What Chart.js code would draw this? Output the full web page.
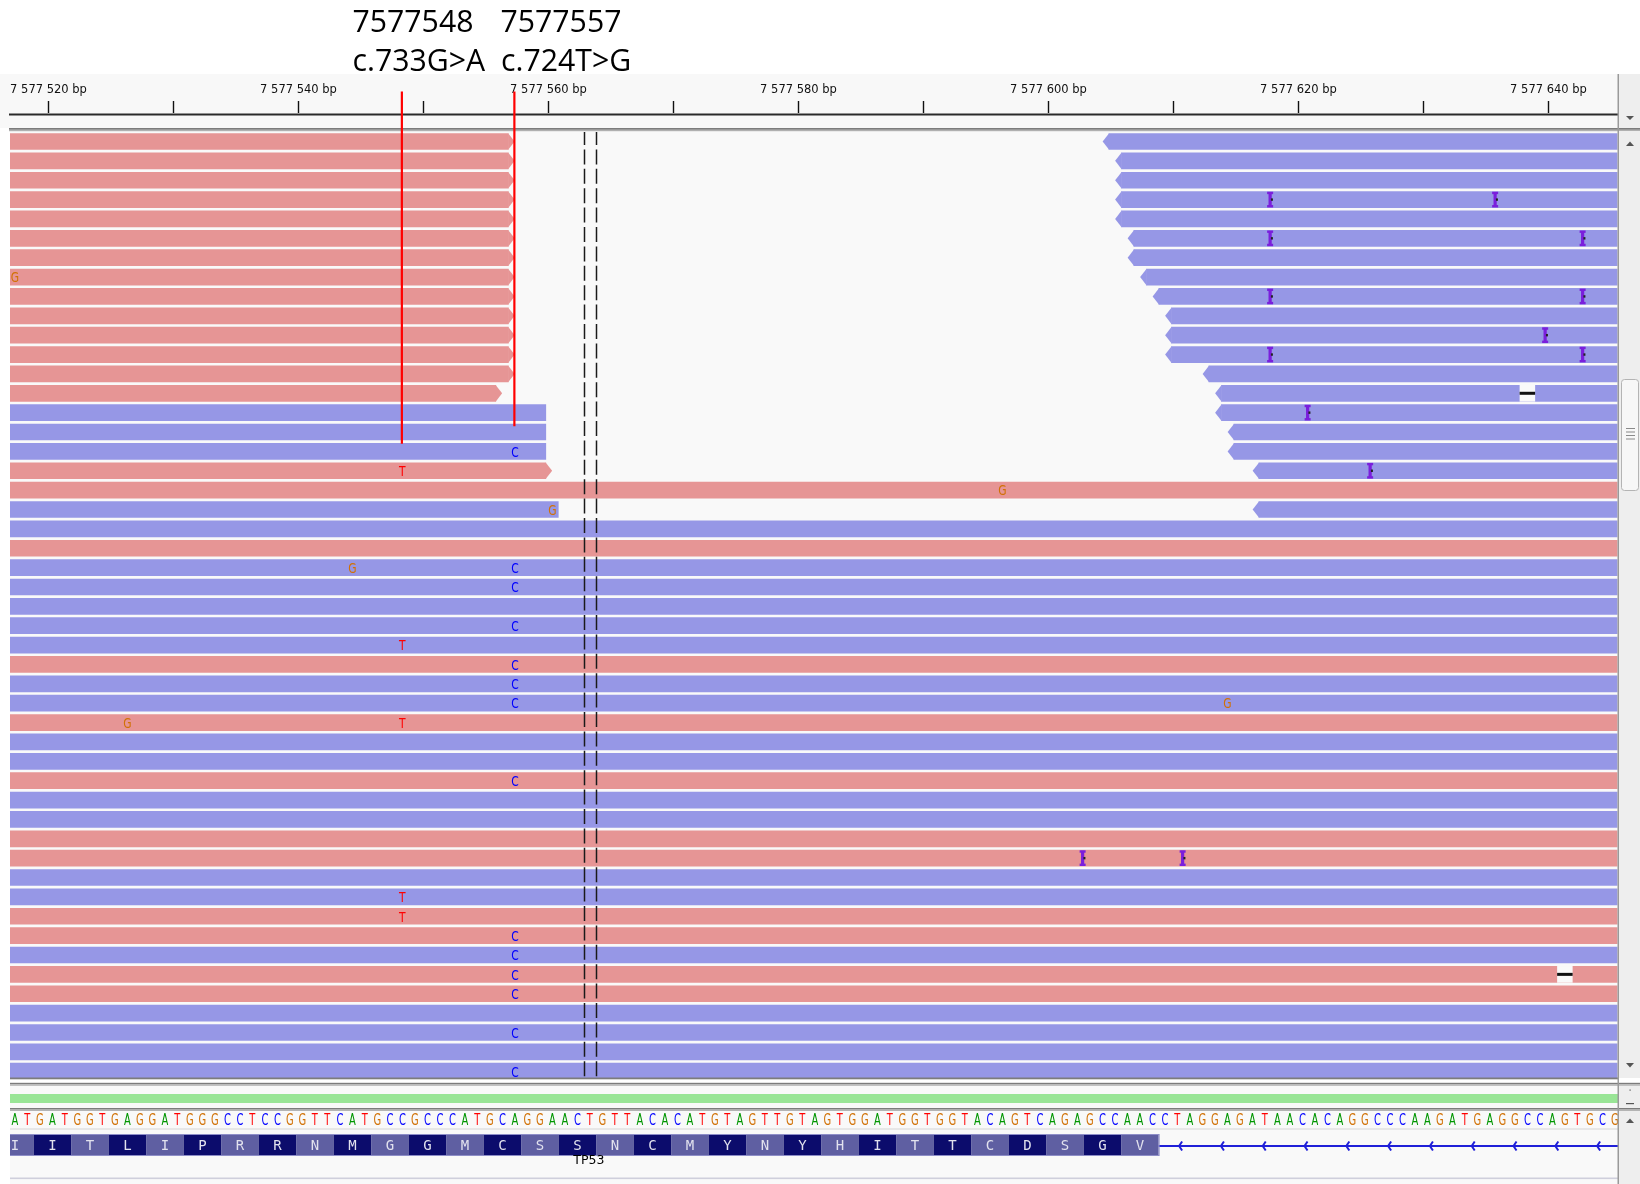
<!DOCTYPE html>
<html>
<head>
<meta charset="utf-8">
<title>TP53 reads</title>
<script src="https://cdn.jsdelivr.net/npm/chart.js@4.4.1/dist/chart.umd.min.js"></script>
<style>
	html, body { margin: 0; padding: 0; background: #fff; }
	canvas { display: block; }
</style>
</head>
<body>
<canvas id="myChart" width="1640" height="1184"></canvas>
<script>
// rows of the alignment panel (top to bottom)
var rowNames = ['1', '2', '3', '4', '5', '6', '7', '8', '9', '10', '11', '12', '13', '14', '15', '16', '17',
	'18', '19', '20', '21', '22', '23', '24', '25', '26', '27', '28', '29', '30', '31', '32', '33', '34',
	'35', '36', '37', '38', '39', '40', '41', '42', '43', '44', '45', '46', '47', '48', '49'];

// reads: row, first base, last base, strand
var readRow = [
	1, 2, 3, 4, 5, 6, 7, 8, 9, 10, 11, 12, 13, 14, 15, 16, 17, 18, 19, 20,
	21, 22, 23, 24, 25, 26, 27, 28, 29, 30, 31, 32, 33, 34, 35, 36, 37, 38, 39, 40, 41, 42, 43, 44, 45, 46, 47, 48, 49,
	1, 2, 3, 4, 5, 6, 7, 8, 9, 10, 11, 12, 13, 14, 15, 16, 17, 18, 20];
var readStart = [
	7577457, 7577457, 7577457, 7577457, 7577457, 7577457, 7577457, 7577457, 7577457, 7577457,
	7577457, 7577457, 7577457, 7577456, 7577460, 7577460, 7577460, 7577460, 7577503, 7577461,
	7577508, 7577504, 7577511, 7577499, 7577506, 7577502, 7577510, 7577497, 7577505, 7577509,
	7577500, 7577507, 7577503, 7577512, 7577498, 7577506, 7577501, 7577504, 7577510, 7577499,
	7577508, 7577502, 7577505, 7577500, 7577511, 7577503, 7577507, 7577498, 7577509,
	7577605, 7577606, 7577606, 7577606, 7577606, 7577607, 7577607, 7577608, 7577609, 7577610,
	7577610, 7577610, 7577613, 7577614, 7577614, 7577615, 7577615, 7577617, 7577617];
var readEnd = [
	7577556, 7577556, 7577556, 7577556, 7577556, 7577556, 7577556, 7577556, 7577556, 7577556,
	7577556, 7577556, 7577556, 7577555, 7577559, 7577559, 7577559, 7577559, 7577652, 7577560,
	7577658, 7577654, 7577661, 7577649, 7577656, 7577652, 7577660, 7577647, 7577655, 7577659,
	7577650, 7577657, 7577653, 7577662, 7577648, 7577656, 7577651, 7577654, 7577660, 7577649,
	7577658, 7577652, 7577655, 7577650, 7577661, 7577653, 7577657, 7577648, 7577659,
	7577705, 7577706, 7577706, 7577706, 7577706, 7577707, 7577707, 7577708, 7577709, 7577710,
	7577710, 7577710, 7577713, 7577714, 7577714, 7577715, 7577715, 7577717, 7577717];
var readStrand = '++++++++++++++---++-' + '-+-----+--+--+--++--++-++----' + '-------------------';

// mismatching bases
var mmRow = [8, 17, 18, 19, 20, 23, 23, 24, 26, 27, 28, 29, 30, 30, 31, 31, 34, 40, 41, 42, 43, 44, 45, 47, 49];
var mmPos = [7577517, 7577557, 7577548, 7577596, 7577560, 7577544, 7577557, 7577557, 7577557, 7577548,
	7577557, 7577557, 7577557, 7577614, 7577526, 7577548, 7577557, 7577548, 7577548, 7577557,
	7577557, 7577557, 7577557, 7577557, 7577557];
var mmBase = 'GCTGGGCCCTCCCGGTCTTCCCCCC';

// insertions (base following the insert) and deletions
var insRow = [4, 4, 6, 6, 9, 9, 11, 12, 12, 15, 18, 38, 38];
var insPos = [7577618, 7577636, 7577618, 7577643, 7577618, 7577643, 7577640, 7577618, 7577643, 7577621, 7577626, 7577603, 7577611];
var delRow = [14, 44];
var delPos = [7577638, 7577641];

// ruler
var tickPositions = [7577520, 7577530, 7577540, 7577550, 7577560, 7577570, 7577580, 7577590, 7577600, 7577610, 7577620, 7577630, 7577640];
var tickLabels = ['7 577 520 bp', '', '7 577 540 bp', '', '7 577 560 bp', '', '7 577 580 bp', '', '7 577 600 bp', '', '7 577 620 bp', '', '7 577 640 bp'];

// reference sequence and TP53 translation
var refStart = 7577517;
var refSequence = 'ATGATGGTGAGGATGGGCCTCCGGTTCATGCCGCCCATGCAGGAACTGTTACACATGTAGTTGTAGTGGATGGTGGTACAGTCAGAGCCAACCTAGGAGATAACACAGGCCCAAGATGAGGCCAGTGCG';
var aaStart = 7577516;
var aminoAcids = ['I', 'I', 'T', 'L', 'I', 'P', 'R', 'R', 'N', 'M', 'G', 'G', 'M', 'C', 'S', 'S', 'N', 'C', 'M', 'Y', 'N', 'Y', 'H', 'I', 'T', 'T', 'C', 'D', 'S', 'G', 'V'];
var geneName = 'TP53';

// centre of view and the two marked variants
var centerBase = 7577563;
var variantPos = [7577548, 7577557];
var variantHgvs = ['c.733G>A', 'c.724T>G'];

var VIEW_MIN = 7577517.11;
var VIEW_MAX = 7577645.71;
var TICK_SHIFT = 0.13;
var BAR_FRACTION = 0.862;
var COL_FWD = '#e69595';
var COL_REV = '#9697e6';
var BASE_COLORS = { A: '#009600', C: '#0000ff', G: '#d17105', T: '#ff0000' };
var PANEL_BOTTOM = 1078;

function px(chart, v) {
	return chart.scales.x.getPixelForValue(v);
}
function rowY(chart, row) {
	return chart.scales.y.getPixelForValue(row - 1);
}
function rowPitch(chart) {
	var y = chart.scales.y;
	return y.getPixelForValue(1) - y.getPixelForValue(0);
}
function drawLetter(ctx, ch, x, y, size, sx, color, family) {
	ctx.save();
	ctx.translate(x, y + size * 0.3645);
	ctx.scale(sx, 1);
	ctx.fillStyle = color;
	ctx.font = size + 'px ' + (family || '"DejaVu Sans", sans-serif');
	ctx.textAlign = 'center';
	ctx.textBaseline = 'alphabetic';
	ctx.fillText(ch, 0, 0);
	ctx.restore();
}
function tri(ctx, pts, color) {
	ctx.fillStyle = color;
	ctx.beginPath();
	ctx.moveTo(pts[0], pts[1]);
	ctx.lineTo(pts[2], pts[3]);
	ctx.lineTo(pts[4], pts[5]);
	ctx.closePath();
	ctx.fill();
}

function buildReads(strand) {
	var out = [];
	for (var i = 0; i < readRow.length; i++) {
		if (readStrand.charAt(i) === strand) {
			out.push({ y: rowNames[readRow[i] - 1], x: [readStart[i], readEnd[i] + 1] });
		}
	}
	return out;
}

var igvPlugin = {
	id: 'igvTracks',
	beforeDraw: function(chart) {
		var ctx = chart.ctx;
		var area = chart.chartArea;
		ctx.save();
		ctx.fillStyle = '#ffffff';
		ctx.fillRect(0, 0, 1640, 1184);
		// ruler panel
		ctx.fillStyle = '#f8f8f8';
		ctx.fillRect(0, 74, 1618, 54);
		// alignment panel
		ctx.fillStyle = '#f9f9f9';
		ctx.fillRect(area.left, 131, 1618 - area.left, PANEL_BOTTOM - 131);
		ctx.restore();
	},
	afterDatasetsDraw: function(chart) {
		var ctx = chart.ctx;
		var area = chart.chartArea;
		var pitch = rowPitch(chart);
		var h = pitch * BAR_FRACTION;
		var i, x, y;
		ctx.save();
		ctx.beginPath();
		ctx.rect(area.left, 131, area.right - area.left, PANEL_BOTTOM - 131);
		ctx.clip();

		// strand arrows
		for (i = 0; i < readRow.length; i++) {
			y = rowY(chart, readRow[i]);
			if (readStrand.charAt(i) === '+') {
				if (readEnd[i] + 1 < VIEW_MAX) {
					x = px(chart, readEnd[i] + 1);
					tri(ctx, [x - 0.5, y - h / 2, x + 6, y, x - 0.5, y + h / 2], COL_FWD);
				}
			} else if (readStart[i] > VIEW_MIN) {
				x = px(chart, readStart[i]);
				tri(ctx, [x + 0.5, y - h / 2, x - 6, y, x + 0.5, y + h / 2], COL_REV);
			}
		}

		// deletions
		for (i = 0; i < delRow.length; i++) {
			y = rowY(chart, delRow[i]);
			var d0 = px(chart, delPos[i]) - 1.5;
			var d1 = px(chart, delPos[i] + 1) + 1.5;
			ctx.fillStyle = '#f9f9f9';
			ctx.fillRect(d0, y - h / 2, d1 - d0, h);
			ctx.fillStyle = '#111111';
			ctx.fillRect(d0, y - 1.5, d1 - d0, 3);
		}

		// mismatches
		for (i = 0; i < mmRow.length; i++) {
			var b = mmBase.charAt(i);
			drawLetter(ctx, b, px(chart, mmPos[i] + 0.5), rowY(chart, mmRow[i]), 14.5, 0.74, BASE_COLORS[b]);
		}

		// insertions
		for (i = 0; i < insRow.length; i++) {
			x = px(chart, insPos[i]) - 1;
			y = rowY(chart, insRow[i]);
			ctx.fillStyle = '#7a1fdc';
			ctx.fillRect(x - 1.6, y - h / 2 + 1, 3.2, h - 2);
			ctx.fillRect(x - 3, y - h / 2 + 0.5, 6, 2.4);
			ctx.fillRect(x - 3, y + h / 2 - 2.9, 6, 2.4);
			ctx.fillStyle = '#222222';
			ctx.fillRect(x + 0.8, y - 1.2, 2, 2.4);
		}

		// centre line
		ctx.strokeStyle = '#1a1a1a';
		ctx.lineWidth = 1.5;
		ctx.setLineDash([15, 4.4]);
		ctx.lineDashOffset = 2;
		[centerBase, centerBase + 1].forEach(function(p) {
			var cx = Math.round(px(chart, p)) + 0.5;
			ctx.beginPath();
			ctx.moveTo(cx, 132);
			ctx.lineTo(cx, PANEL_BOTTOM);
			ctx.stroke();
		});
		ctx.restore();
	},
	afterDraw: function(chart) {
		var ctx = chart.ctx;
		var area = chart.chartArea;
		var i, x;
		ctx.save();

		// lower panels
		ctx.fillStyle = '#ffffff';
		ctx.fillRect(0, PANEL_BOTTOM, 1640, 1184 - PANEL_BOTTOM);
		ctx.fillStyle = '#f9f9f9';
		ctx.fillRect(area.left, 1086, 1618 - area.left, 98);
		ctx.fillStyle = '#7c7c7c';
		ctx.fillRect(area.left, PANEL_BOTTOM - 0.5, 1618 - area.left, 1.8);
		ctx.fillRect(area.left, 1082.8, 1640 - area.left, 1.6);
		ctx.fillStyle = '#b4b4b4';
		ctx.fillRect(area.left, 1084.4, 1640 - area.left, 1.4);

		// green feature bar
		ctx.fillStyle = '#99e596';
		ctx.fillRect(area.left, 1094, 1618 - area.left, 9);

		ctx.fillStyle = '#7c7c7c';
		ctx.fillRect(area.left, 1108, 1640 - area.left, 1.6);
		ctx.fillStyle = '#b4b4b4';
		ctx.fillRect(area.left, 1109.6, 1640 - area.left, 1.4);

		// reference sequence
		ctx.save();
		ctx.beginPath();
		ctx.rect(area.left, 1111, 1618 - area.left, 73);
		ctx.clip();
		for (i = 0; i < refSequence.length; i++) {
			var base = refSequence.charAt(i);
			drawLetter(ctx, base, px(chart, refStart + i + 0.5), 1119.5, 15, 0.66, BASE_COLORS[base]);
		}
		ctx.fillStyle = '#d6d6d6';
		ctx.fillRect(area.left, 1128.5, 1618 - area.left, 1);

		// gene track
		var exonEnd = aaStart + aminoAcids.length * 3;
		var geneY = 1146;
		ctx.strokeStyle = '#1f1fd8';
		ctx.lineWidth = 2;
		ctx.beginPath();
		ctx.moveTo(px(chart, exonEnd), geneY);
		ctx.lineTo(1618, geneY);
		ctx.stroke();
		for (x = px(chart, exonEnd) + 21; x < 1612; x += 41.8) {
			ctx.beginPath();
			ctx.moveTo(x + 2.5, geneY - 4.5);
			ctx.lineTo(x - 0.5, geneY);
			ctx.lineTo(x + 2.5, geneY + 4.5);
			ctx.stroke();
		}
		for (i = 0; i < aminoAcids.length; i++) {
			var a0 = px(chart, aaStart + i * 3);
			var a1 = px(chart, aaStart + i * 3 + 3);
			ctx.fillStyle = i % 2 === 0 ? '#5f5fa2' : '#0c0c6c';
			ctx.fillRect(a0, 1135, a1 - a0, 20);
			drawLetter(ctx, aminoAcids[i], (a0 + a1) / 2, 1145, 14, 1, '#e2e2ee', '"DejaVu Sans Mono", monospace');
		}
		ctx.strokeStyle = '#8e8ec8';
		ctx.lineWidth = 1;
		ctx.strokeRect(area.left - 2, 1134.5, px(chart, exonEnd) - area.left + 2.5, 21);
		ctx.restore();

		ctx.fillStyle = '#000000';
		ctx.font = '12.5px "DejaVu Sans", sans-serif';
		ctx.textAlign = 'center';
		ctx.textBaseline = 'middle';
		ctx.fillText(geneName, px(chart, centerBase + 0.5) - 1, 1161);
		ctx.fillStyle = '#cfcfdc';
		ctx.fillRect(area.left, 1177.5, 1618 - area.left, 1.6);

		// ruler
		ctx.save();
		ctx.beginPath();
		ctx.rect(8, 74, 1610, 54);
		ctx.clip();
		ctx.fillStyle = '#111111';
		ctx.font = '11.5px "DejaVu Sans", sans-serif';
		ctx.textAlign = 'center';
		ctx.textBaseline = 'middle';
		ctx.strokeStyle = '#111111';
		ctx.lineWidth = 1.4;
		for (i = 0; i < tickPositions.length; i++) {
			x = Math.round(px(chart, tickPositions[i] + TICK_SHIFT)) + 0.5;
			ctx.beginPath();
			ctx.moveTo(x, 101);
			ctx.lineTo(x, 113);
			ctx.stroke();
			if (tickLabels[i]) {
				ctx.fillText(tickLabels[i], x, 90);
			}
		}
		ctx.restore();
		ctx.fillStyle = '#2a2a2a';
		ctx.fillRect(9, 113.5, 1609, 2);
		ctx.fillStyle = '#7c7c7c';
		ctx.fillRect(9, 128, 1631, 1.8);
		ctx.fillStyle = '#b0b0b0';
		ctx.fillRect(9, 129.8, 1631, 1.4);

		// right scroll column
		ctx.fillStyle = '#eeeeee';
		ctx.fillRect(1618.5, 74, 21.5, 54);
		ctx.fillRect(1618.5, 131.2, 21.5, PANEL_BOTTOM - 131.2);
		ctx.fillRect(1618.5, 1086, 21.5, 22);
		ctx.fillRect(1618.5, 1111, 21.5, 73);
		ctx.fillStyle = '#9a9a9a';
		ctx.fillRect(1617.5, 74, 1.5, 1110);
		ctx.fillStyle = '#f7f7f7';
		ctx.strokeStyle = '#b4b4b4';
		ctx.lineWidth = 1;
		ctx.beginPath();
		ctx.roundRect(1621.5, 379.5, 17, 111, 3);
		ctx.fill();
		ctx.stroke();
		ctx.fillStyle = '#8a8a8a';
		for (i = 0; i < 4; i++) {
			ctx.fillRect(1626, 428 + i * 3.5, 9, 1);
		}
		tri(ctx, [1626, 116, 1634, 116, 1630, 120], '#555555');
		tri(ctx, [1626, 146, 1634, 146, 1630, 141.5], '#555555');
		tri(ctx, [1626, 1063, 1634, 1063, 1630, 1067.5], '#555555');
		tri(ctx, [1626, 1123, 1634, 1123, 1630, 1118.5], '#555555');
		ctx.fillRect(1629.5, 1089.5, 1.2, 1.2);
		ctx.fillRect(1626, 1103, 8, 1.2);

		// marked variants
		ctx.strokeStyle = '#ff0000';
		ctx.lineWidth = 2.2;
		var lineEnds = [15.6, 14.7];
		for (i = 0; i < variantPos.length; i++) {
			x = px(chart, variantPos[i] + 0.5) - 0.5;
			ctx.beginPath();
			ctx.moveTo(x, 91.5);
			ctx.lineTo(x, chart.scales.y.getPixelForValue(lineEnds[i]));
			ctx.stroke();
		}

		// callout text
		var family = '"Open Sans", "Noto Sans", sans-serif';
		ctx.font = '30px ' + family;
		var size = 30 * 121 / ctx.measureText(String(variantPos[0])).width;
		ctx.font = size + 'px ' + family;
		ctx.fillStyle = '#000000';
		ctx.textAlign = 'left';
		ctx.textBaseline = 'alphabetic';
		ctx.fillText(String(variantPos[0]), 352.5, 31.5);
		ctx.fillText(String(variantPos[1]), 500.5, 31.5);
		ctx.fillText(variantHgvs[0], 352.5, 71);
		ctx.fillText(variantHgvs[1], 501, 71);
		ctx.restore();
	}
};

var ctx = document.getElementById('myChart').getContext('2d');
var chart = new Chart(ctx, {
	type: 'bar',
	data: {
		labels: rowNames,
		datasets: [{
			label: 'forward',
			data: buildReads('+'),
			backgroundColor: COL_FWD,
			borderWidth: 0,
			borderSkipped: false,
			grouped: false,
			barPercentage: BAR_FRACTION,
			categoryPercentage: 1
		}, {
			label: 'reverse',
			data: buildReads('-'),
			backgroundColor: COL_REV,
			borderWidth: 0,
			borderSkipped: false,
			grouped: false,
			barPercentage: BAR_FRACTION,
			categoryPercentage: 1
		}]
	},
	options: {
		indexAxis: 'y',
		responsive: false,
		animation: false,
		layout: { padding: { left: 10, right: 22.5, top: 131.8, bottom: 103.1 } },
		plugins: { legend: { display: false }, tooltip: { enabled: false } },
		scales: {
			x: { type: 'linear', min: VIEW_MIN, max: VIEW_MAX, display: false },
			y: { type: 'category', labels: rowNames, offset: true, display: false }
		}
	},
	plugins: [igvPlugin]
});
</script>
</body>
</html>
